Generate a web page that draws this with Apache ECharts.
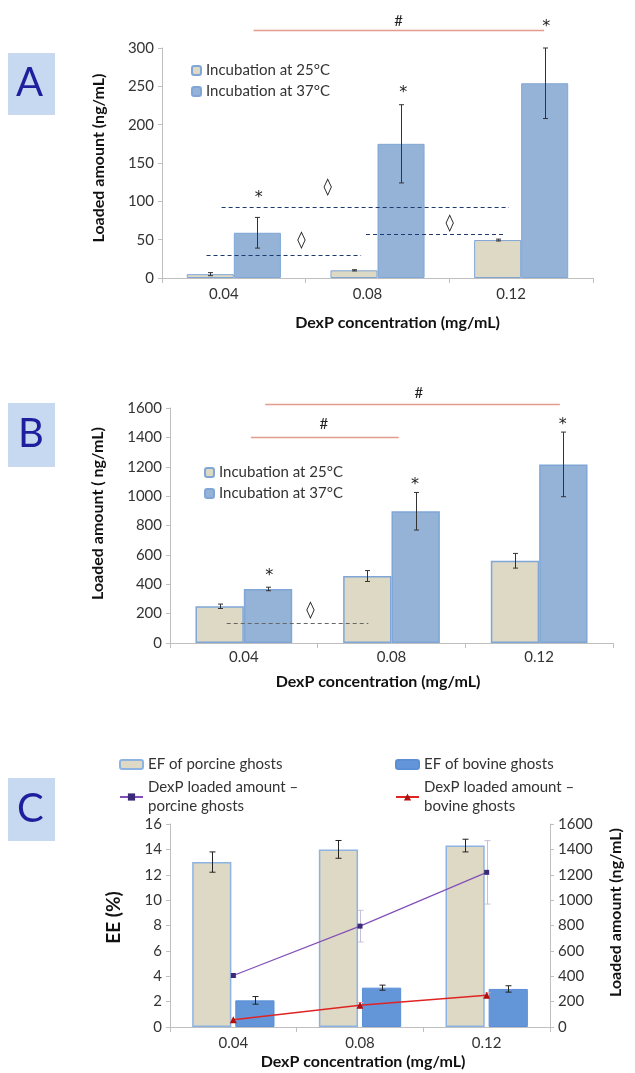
<!DOCTYPE html>
<html><head><meta charset="utf-8">
<script src="https://cdn.jsdelivr.net/npm/echarts@6/dist/echarts.min.js"></script>
<style>html,body{margin:0;padding:0;background:#fff}#c{width:635px;height:1073px}</style>
</head><body><div id="c"></div><script>
// ---------- data ----------
const categories = ['0.04', '0.08', '0.12'];

// Panel A
const a25 = [5, 10, 49.5];
const a25Err = [2, 0.8, 1.2];
const a37 = [59, 175, 254];
const a37Err = [20, 51, 46];
const aStars = [[0.173, 104], [1.18, 241], [2.174, 328]];
const aDiamonds = [[0.47, 49], [0.653, 118], [1.502, 71]];
const aDashed = [[-0.19, 0.886, 30], [-0.085, 1.915, 92.6], [0.92, 1.89, 58]];
const aBrackets = [[0.137, 2.16, 323]];
const aHashes = [[1.146, 335]];

// Panel B
const b25 = [250, 456, 560];
const b25Err = [15, 37, 50];
const b37 = [368, 897, 1216];
const b37Err = [12, 128, 220];
const bStars = [[0.172, 455], [1.159, 1080], [2.16, 1482]];
const bDiamonds = [[0.451, 222]];
const bDashed = [[-0.116, 0.843, 136]];
const bBrackets = [[0.145, 2.14, 1625], [0.048, 1.049, 1402]];
const bHashes = [[1.186, 1700], [0.542, 1489]];

// Panel C
const cPorcineEE = [13.0, 14.0, 14.3];
const cPorcineEEErr = [0.8, 0.7, 0.5];
const cBovineEE = [2.1, 3.1, 3.0];
const cBovineEEErr = [0.3, 0.2, 0.25];
const cPorcineLoad = [406, 795, 1219];
const cPorcineLoadErr = [10, 125, 250];
const cBovineLoad = [58, 171, 250];
const cBovineLoadErr = [5, 22, 20];

const nameA25 = 'Incubation at 25°C', nameA37 = 'Incubation at 37°C';
const nameEFp = 'EF of porcine ghosts', nameEFb = 'EF of bovine ghosts';
const nameLp = 'DexP loaded amount –\nporcine ghosts', nameLb = 'DexP loaded amount –\nbovine ghosts';

// ---------- styles ----------
const FONT = 'Lato, "Open Sans", sans-serif';
const BEIGE = '#ddd9c4', LBLUE = '#95b3d7', BORDER = '#7fa6d6', CBLUE = '#6396d9';
const AXIS = '#bfbfbf', TXT = '#333333';
const GAP_AB = 0.345, GAP_C = 0.35, BARGAP_C = 0.1;
const offAB = (1 - GAP_AB) / 4;
const wC = (1 - GAP_C) / (2 + BARGAP_C);
const offC = wC / 2 + BARGAP_C * wC / 2;

function pairs(vals, errs) { return vals.map((v, i) => [i, v, errs[i]]); }
function fx(api, x, y) {
  const base = Math.round(x);
  const band = api.size([1, 0])[0];
  const p = api.coord([base, y]);
  return [p[0] + (x - base) * band, p[1]];
}
function errSeries(xi, yi, vals, errs, off, color, cap) {
  return {
    type: 'custom', xAxisIndex: xi, yAxisIndex: yi, clip: false, silent: true, z: 5,
    data: pairs(vals, errs),
    renderItem(params, api) {
      const i = api.value(0), v = api.value(1), e = api.value(2);
      const t = fx(api, i + off, v + e), b = fx(api, i + off, v - e);
      const x = Math.round(t[0]) + 0.5;
      const st = { stroke: color, lineWidth: 1 };
      return { type: 'group', children: [
        { type: 'line', shape: { x1: x, y1: t[1], x2: x, y2: b[1] }, style: st },
        { type: 'line', shape: { x1: x - cap, y1: t[1], x2: x + cap, y2: t[1] }, style: st },
        { type: 'line', shape: { x1: x - cap, y1: b[1], x2: x + cap, y2: b[1] }, style: st }
      ] };
    }
  };
}
function glyphSeries(xi, yi, data, text, font, color) {
  return {
    type: 'custom', xAxisIndex: xi, yAxisIndex: yi, clip: false, silent: true, z: 6,
    data: data,
    renderItem(params, api) {
      const p = fx(api, api.value(0), api.value(1));
      return { type: 'text', x: p[0], y: p[1], style: { text: text, font: font, fill: color, textAlign: 'center', textVerticalAlign: 'middle' } };
    }
  };
}
function hlineSeries(xi, yi, data, color, dash, width) {
  return {
    type: 'custom', xAxisIndex: xi, yAxisIndex: yi, clip: false, silent: true, z: 6,
    data: data,
    renderItem(params, api) {
      const p1 = fx(api, api.value(0), api.value(2)), p2 = fx(api, api.value(1), api.value(2));
      const y = Math.round(p1[1]) + 0.5;
      return { type: 'line', shape: { x1: p1[0], y1: y, x2: p2[0], y2: y }, style: { stroke: color, lineWidth: width, lineDash: dash } };
    }
  };
}
function xAxisCfg(gi, name, gap, pad, lblGap, lblPad) {
  return {
    type: 'category', gridIndex: gi, data: categories, boundaryGap: true,
    axisLine: { lineStyle: { color: AXIS } },
    axisTick: { show: true, length: 5, lineStyle: { color: AXIS } },
    axisLabel: { color: TXT, fontSize: 15, fontFamily: FONT, margin: lblGap, padding: lblPad },
    name: name, nameLocation: 'middle', nameGap: gap,
    nameTextStyle: { color: '#111', fontSize: 16, fontWeight: 'bold', fontFamily: FONT, padding: pad }
  };
}
function yAxisCfg(gi, max, interval, name, gap, pad, pos, fs) {
  return {
    type: 'value', gridIndex: gi, min: 0, max: max, interval: interval, position: pos || 'left',
    axisLine: { show: true, lineStyle: { color: AXIS } },
    axisTick: { show: true, length: 4, lineStyle: { color: AXIS } },
    splitLine: { show: false },
    axisLabel: { color: TXT, fontSize: 15, fontFamily: FONT, margin: 8, formatter: v => String(v) },
    name: name, nameLocation: 'middle', nameGap: gap, nameRotate: 90,
    nameTextStyle: { color: '#111', fontSize: fs || 16, fontWeight: 'bold', fontFamily: FONT, padding: pad }
  };
}

const chart = echarts.init(document.getElementById('c'), null, { renderer: 'canvas' });
const barAB = { barCategoryGap: (GAP_AB * 100) + '%', barGap: '0%' };
const STAR = '16px "DejaVu Sans"';
chart.setOption({
  backgroundColor: '#fff',
  animation: false,
  textStyle: { fontFamily: FONT },
  grid: [
    { left: 162, top: 48, width: 431, height: 230 },
    { left: 170, top: 408, width: 443, height: 235 },
    { left: 170, top: 824, width: 380, height: 203 }
  ],
  legend: [
    { data: [nameA25, nameA37], orient: 'vertical', left: 186, top: 57, itemWidth: 9, itemHeight: 9, itemGap: 4,
      textStyle: { fontSize: 15, color: TXT, fontFamily: FONT, lineHeight: 17 }, selectedMode: false },
    { data: [nameA25, nameA37], orient: 'vertical', left: 199, top: 459, itemWidth: 9, itemHeight: 9, itemGap: 4,
      textStyle: { fontSize: 15, color: TXT, fontFamily: FONT, lineHeight: 17 }, selectedMode: false },
    { data: [nameEFp, nameLp], orient: 'vertical', left: 114, top: 750, itemWidth: 23, itemHeight: 9, itemGap: 4,
      textStyle: { fontSize: 15, color: TXT, fontFamily: FONT, lineHeight: 19 }, selectedMode: false },
    { data: [nameEFb, nameLb], orient: 'vertical', left: 390, top: 750, itemWidth: 23, itemHeight: 9, itemGap: 4,
      textStyle: { fontSize: 15, color: TXT, fontFamily: FONT, lineHeight: 19 }, selectedMode: false }
  ],
  xAxis: [
    xAxisCfg(0, 'DexP concentration (mg/mL)', 37, [0, 0, 0, 40], 9, [0, 20, 0, 0]),
    xAxisCfg(1, 'DexP concentration (mg/mL)', 31, [0, 27, 0, 0], 7, 0),
    xAxisCfg(2, 'DexP concentration (mg/mL)', 27, [0, 0, 0, 6], 9, 0)
  ],
  yAxis: [
    yAxisCfg(0, 300, 50, 'Loaded amount (ng/mL)', 55, [0, 0, 0, 10]),
    yAxisCfg(1, 1600, 200, 'Loaded amount ( ng/mL)', 64, [0, 0, 0, 24]),
    yAxisCfg(2, 16, 2, 'EE (%)', 47, [0, 0, 0, 16], 'left', 19),
    yAxisCfg(2, 1600, 200, 'Loaded amount (ng/mL)', 58, [0, 0, 0, 26], 'right')
  ],
  graphic: [
    { type: 'rect', left: 8, top: 53, shape: { width: 47, height: 62 }, style: { fill: '#c6d9f0' } },
    { type: 'text', left: 16, top: 63, style: { text: 'A', font: '40px ' + FONT, fill: '#1f1f9e' } },
    { type: 'rect', left: 8, top: 403, shape: { width: 47, height: 64 }, style: { fill: '#c6d9f0' } },
    { type: 'text', left: 18, top: 414, style: { text: 'B', font: '40px ' + FONT, fill: '#1f1f9e' } },
    { type: 'rect', left: 8, top: 778, shape: { width: 47, height: 63 }, style: { fill: '#c6d9f0' } },
    { type: 'text', left: 17, top: 789, style: { text: 'C', font: '40px ' + FONT, fill: '#1f1f9e' } }
  ],
  series: [
    // Panel A
    Object.assign({ type: 'bar', name: nameA25, xAxisIndex: 0, yAxisIndex: 0, data: a25,
      itemStyle: { color: BEIGE, borderColor: BORDER, borderWidth: 1 } }, barAB),
    Object.assign({ type: 'bar', name: nameA37, xAxisIndex: 0, yAxisIndex: 0, data: a37,
      itemStyle: { color: LBLUE, borderColor: BORDER, borderWidth: 1 } }, barAB),
    errSeries(0, 0, a25, a25Err, -offAB, '#333', 2.5),
    errSeries(0, 0, a37, a37Err, offAB, '#333', 2.5),
    hlineSeries(0, 0, aDashed, '#1f3a6e', [4, 3], 1),
    hlineSeries(0, 0, aBrackets, '#e49a8e', null, 1.5),
    glyphSeries(0, 0, aStars, '*', STAR, '#222'),
    glyphSeries(0, 0, aDiamonds, '◊', '17px "DejaVu Sans"', '#222'),
    glyphSeries(0, 0, aHashes, '#', '15px ' + FONT, '#222'),
    // Panel B
    Object.assign({ type: 'bar', name: nameA25, xAxisIndex: 1, yAxisIndex: 1, data: b25,
      itemStyle: { color: BEIGE, borderColor: BORDER, borderWidth: 1.5 } }, barAB),
    Object.assign({ type: 'bar', name: nameA37, xAxisIndex: 1, yAxisIndex: 1, data: b37,
      itemStyle: { color: LBLUE, borderColor: BORDER, borderWidth: 1.5 } }, barAB),
    errSeries(1, 1, b25, b25Err, -offAB, '#333', 2.5),
    errSeries(1, 1, b37, b37Err, offAB, '#333', 2.5),
    hlineSeries(1, 1, bDashed, '#666', [4, 3], 1),
    hlineSeries(1, 1, bBrackets, '#e49a8e', null, 1.5),
    glyphSeries(1, 1, bStars, '*', STAR, '#222'),
    glyphSeries(1, 1, bDiamonds, '◊', '17px "DejaVu Sans"', '#222'),
    glyphSeries(1, 1, bHashes, '#', '15px ' + FONT, '#222'),
    // Panel C
    { type: 'bar', name: nameEFp, xAxisIndex: 2, yAxisIndex: 2, data: cPorcineEE,
      barCategoryGap: (GAP_C * 100) + '%', barGap: (BARGAP_C * 100) + '%',
      itemStyle: { color: BEIGE, borderColor: '#8db3e2', borderWidth: 1.5 } },
    { type: 'bar', name: nameEFb, xAxisIndex: 2, yAxisIndex: 2, data: cBovineEE,
      barCategoryGap: (GAP_C * 100) + '%', barGap: (BARGAP_C * 100) + '%',
      itemStyle: { color: CBLUE, borderColor: '#5a8fd6', borderWidth: 1 } },
    errSeries(2, 2, cPorcineEE, cPorcineEEErr, -offC, '#222', 3),
    errSeries(2, 2, cBovineEE, cBovineEEErr, offC, '#222', 3),
    errSeries(2, 3, cPorcineLoad, cPorcineLoadErr, 0, '#c9bfd8', 3),
    errSeries(2, 3, cBovineLoad, cBovineLoadErr, 0, '#f0a8a8', 3),
    { type: 'line', name: nameLp, xAxisIndex: 2, yAxisIndex: 3, data: cPorcineLoad, z: 7,
      symbol: 'rect', symbolSize: 5, lineStyle: { color: '#8250b8', width: 1.2 },
      itemStyle: { color: '#3a2a78' } },
    { type: 'line', name: nameLb, xAxisIndex: 2, yAxisIndex: 3, data: cBovineLoad, z: 7,
      symbol: 'triangle', symbolSize: 7, lineStyle: { color: '#e02424', width: 1.5 },
      itemStyle: { color: '#b01010' } }
  ]
});
</script></body></html>
